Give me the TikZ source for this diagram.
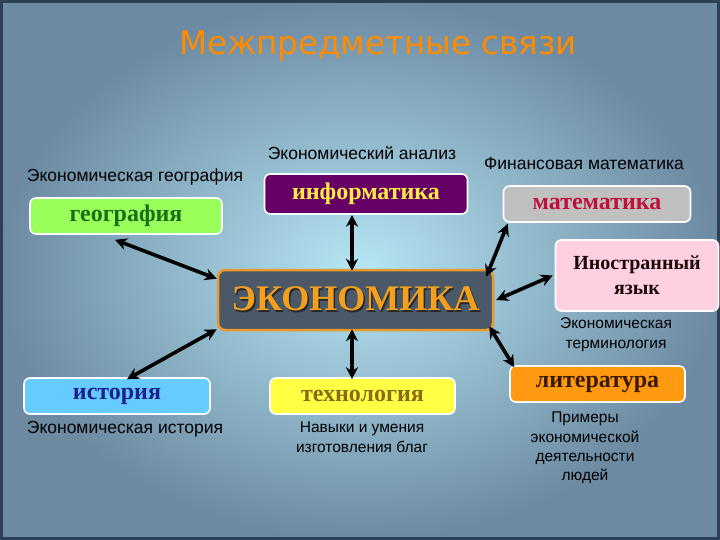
\documentclass[tikz,border=0pt]{standalone}
\usepackage{fontspec}
\setmainfont{Liberation Serif}
\setsansfont{Liberation Sans}
\newfontfamily\titlefont{DejaVu Sans}
\usetikzlibrary{arrows.meta}
\definecolor{bgin}{HTML}{B6E6F4}
\definecolor{bgout}{HTML}{6C8AA2}
\definecolor{frame}{HTML}{2C4058}
\definecolor{titleor}{HTML}{FF8C00}
\definecolor{ecoshadow}{HTML}{282828}
\definecolor{ecotext}{HTML}{F4A01E}
\begin{document}
\begin{tikzpicture}[x=1pt,y=-1pt,
  box/.style={draw=white,line width=1.6pt,rounded corners=6pt,minimum height=36pt,
    font=\fontsize{24}{26}\selectfont\bfseries,inner sep=2pt},
  lbl/.style={font=\sffamily\fontsize{17.5}{20}\selectfont,text=black,align=center},
  link/.style={line width=3.6pt,black,{Stealth[length=12pt,width=12pt]}-{Stealth[length=12pt,width=12pt]}}]
\useasboundingbox (0,0) rectangle (720,540);
\shade[inner color=bgin,outer color=bgout] (0,0) rectangle (720,540);
\draw[frame,line width=3pt] (1.5,1.5) rectangle (718.5,538.5);

\node[font=\titlefont\fontsize{32.5}{36}\selectfont,text=titleor] (title) at (378,46) {Межпредметные связи};

\node[box,fill={rgb,255:red,153;green,255;blue,90},text={rgb,255:red,26;green,110;blue,26},minimum width=192pt] (geo) at (126,216) {география};
\node[lbl] (geol) at (135,177) {Экономическая география};

\node[box,fill={rgb,255:red,102;green,0;blue,102},text={rgb,255:red,255;green,236;blue,70},minimum width=203pt,minimum height=40pt] (inf) at (366,194) {информатика};
\node[lbl] (infl) at (362,153) {Экономический анализ};

\node[box,fill={rgb,255:red,192;green,192;blue,192},text={rgb,255:red,192;green,16;blue,58},minimum width=187pt] (mat) at (597,204) {математика};
\node[lbl] (matl) at (584,164) {Финансовая математика};

\node[box,fill={rgb,255:red,255;green,208;blue,224},text={rgb,255:red,26;green,10;blue,10},minimum width=163pt,minimum height=71pt,align=center,font=\fontsize{20}{25}\selectfont\bfseries] (lang) at (637,275.5) {Иностранный\\язык};
\node[lbl,font=\sffamily\fontsize{15.5}{20}\selectfont] (langl) at (616,335) {Экономическая\\терминология};

\node[draw={rgb,255:red,232;green,155;blue,42},line width=2.5pt,rounded corners=7pt,fill={rgb,255:red,74;green,88;blue,104},minimum width=275pt,minimum height=60pt,font=\fontsize{36}{38}\selectfont\bfseries,text=ecotext] (eco) at (355.5,300) {\makebox[0pt][l]{\kern1.5pt\raisebox{-2pt}{\color{ecoshadow}ЭКОНОМИКА}}ЭКОНОМИКА};

\node[box,fill={rgb,255:red,102;green,204;blue,255},text={rgb,255:red,26;green,32;blue,144},minimum width=186pt] (hist) at (117,396) {история};
\node[lbl] (histl) at (125,429) {Экономическая история};

\node[box,fill={rgb,255:red,255;green,255;blue,68},text={rgb,255:red,139;green,106;blue,26},minimum width=185pt] (tech) at (362.5,396) {технология};
\node[lbl,font=\sffamily\fontsize{15.5}{20}\selectfont] (techl) at (362,437) {Навыки и умения\\изготовления благ};

\node[box,fill={rgb,255:red,255;green,154;blue,16},text={rgb,255:red,58;green,26;blue,0},minimum width=175pt] (lit) at (597.5,384) {литература};
\node[lbl,font=\sffamily\fontsize{15.5}{19.3}\selectfont] (litl) at (585,448) {Примеры\\экономической\\деятельности\\людей};

\draw[link] ([xshift=-11pt,yshift=-5pt]geo.south) -- ([yshift=-10pt]eco.north west);
\draw[link] ([xshift=-14pt]inf.south) -- ([xshift=-3.5pt,yshift=-2pt]eco.north);
\draw[link] ([xshift=5pt,yshift=-1pt]mat.south west) -- ([xshift=-8pt,yshift=-8pt]eco.north east);
\draw[link] ([xshift=2pt]eco.east) -- ([xshift=-2pt]lang.west);
\draw[link] ([xshift=-5pt,yshift=5pt]eco.south east) -- ([xshift=5pt,yshift=-2pt]lit.north west);
\draw[link] ([xshift=-3.5pt,yshift=2pt]eco.south) -- ([xshift=-10.5pt,yshift=-2pt]tech.north);
\draw[link] ([yshift=2pt]eco.south west) -- ([xshift=10pt,yshift=-2pt]hist.north);
\end{tikzpicture}
\end{document}
